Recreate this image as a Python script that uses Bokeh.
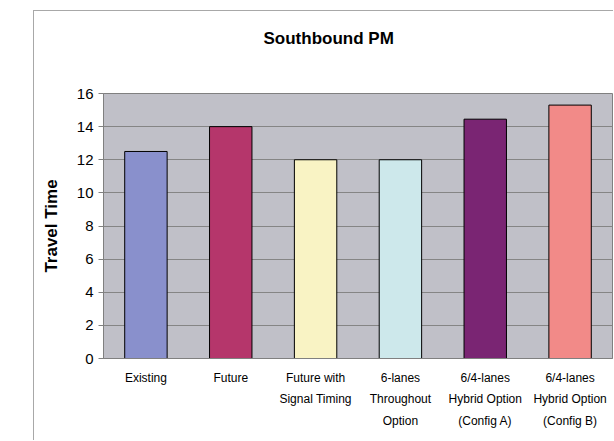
from bokeh.plotting import figure
from bokeh.models import ColumnDataSource, FactorRange, Range1d, FixedTicker, Title
from bokeh.embed import file_html
from bokeh.resources import INLINE

# ---- data ----
categories = ["Existing", "Future", "Future with\nSignal Timing",
              "6-lanes\nThroughout\nOption",
              "6/4-lanes\nHybrid Option\n(Config A)",
              "6/4-lanes\nHybrid Option\n(Config B)"]
travel_time = [12.5, 14.0, 12.0, 12.0, 14.45, 15.3]
bar_colors = ["#8990CC", "#B5366B", "#F9F3C4", "#CDE8EB", "#7A2573", "#F28A88"]
y_ticks = [0, 2, 4, 6, 8, 10, 12, 14, 16]
title_text = "Southbound PM"
y_label = "Travel Time"

FONT = "Liberation Sans"

source = ColumnDataSource(data=dict(cat=categories, val=travel_time, color=bar_colors))

p = figure(width=580, height=430, output_backend="svg", toolbar_location=None,
           x_range=FactorRange(*categories), y_range=Range1d(0, 16),
           min_border_left=69, min_border_right=2, min_border_top=82, min_border_bottom=83,
           margin=(10, 0, 0, 33))
p.styles = {"border-left": "1px solid #A8A8A8", "border-top": "1px solid #A8A8A8"}

p.background_fill_color = "#C0C0C8"
p.border_fill_color = "white"
p.outline_line_color = "#808080"
p.outline_line_width = 1

p.vbar(x="cat", top="val", width=0.5, source=source, fill_color="color",
       line_color="black", line_width=1)

# title
p.title.text = title_text
p.title.text_font = FONT
p.title.text_font_size = "17px"
p.title.text_font_style = "bold"
p.title.text_color = "black"
p.title.align = "left"
p.title.offset = 160
p.title.vertical_align = "bottom"
p.title.standoff = 10

# blank spacer between title and plot area
p.add_layout(Title(text=" ", text_font=FONT, text_font_size="17px", standoff=19.5), "above")

# grid
p.xgrid.grid_line_color = None
p.ygrid.ticker = FixedTicker(ticks=y_ticks)
p.ygrid.grid_line_color = "#858585"
p.ygrid.grid_line_width = 1

# y axis
p.yaxis.ticker = FixedTicker(ticks=y_ticks)
p.yaxis.axis_line_color = "#808080"
p.yaxis.major_tick_line_color = "#808080"
p.yaxis.major_tick_out = 5
p.yaxis.major_tick_in = 0
p.yaxis.minor_tick_line_color = None
p.yaxis.major_label_text_font = FONT
p.yaxis.major_label_text_font_size = "15px"
p.yaxis.major_label_text_color = "black"
p.yaxis.major_label_standoff = 5
p.yaxis.axis_label = y_label
p.yaxis.axis_label_text_font = FONT
p.yaxis.axis_label_text_font_size = "17px"
p.yaxis.axis_label_text_font_style = "bold"
p.yaxis.axis_label_text_color = "black"
p.yaxis.axis_label_standoff = 13

# x axis
p.xaxis.axis_line_color = "#808080"
p.xaxis.major_tick_line_color = None
p.xaxis.major_tick_out = 0
p.xaxis.minor_tick_line_color = None
p.xaxis.major_label_text_font = FONT
p.xaxis.major_label_text_font_size = "12px"
p.xaxis.major_label_text_color = "black"
p.xaxis.major_label_text_line_height = 1.55
p.xaxis.major_label_standoff = 12

open("out.html", "w").write(file_html(p, INLINE))
